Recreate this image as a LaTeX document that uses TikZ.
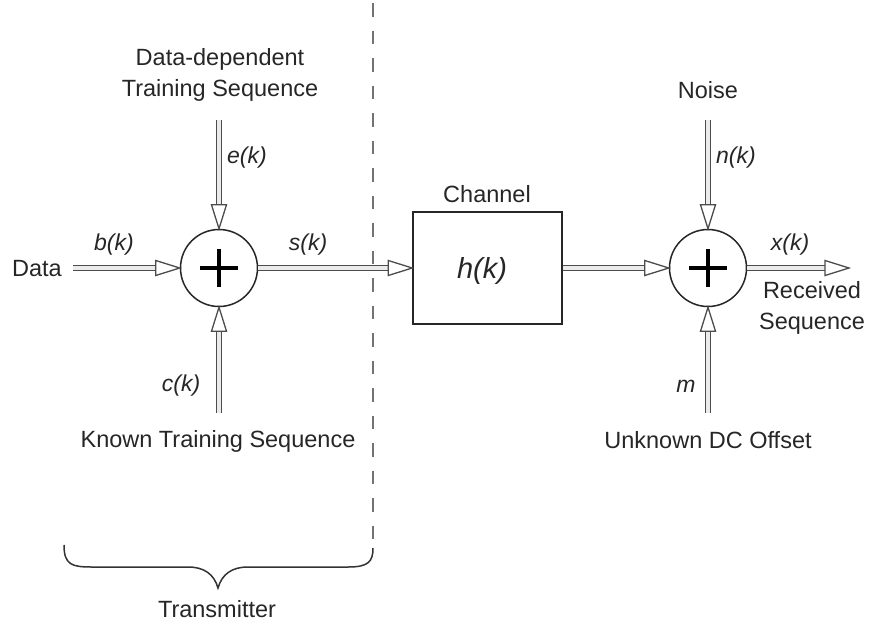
\documentclass[tikz,border=0pt]{standalone}
\usepackage{fontspec}
\setmainfont{Liberation Sans}
\usetikzlibrary{calc}

% hollow block arrow: double-line shaft and an open triangular head
\newcommand\fatarrow[2]{%
  \coordinate (fa-b) at ($(#2)!24pt!(#1)$);
  \path[shaft] (#1) -- (fa-b);
  \draw[headtip] (#2) -- ($(fa-b)!7.5pt!90:(#2)$) -- ($(fa-b)!7.5pt!-90:(#2)$) -- cycle;
}

\begin{document}
\begin{tikzpicture}[x=1pt,y=-1pt,
  lbl/.style={font=\fontsize{23.5}{31}\selectfont, inner sep=0pt, align=center, text=black!85},
  sig/.style={font=\fontsize{23}{26}\selectfont\itshape, inner sep=0pt, text=black!85, anchor=base},
  sumnode/.style={circle, draw=black!85, line width=1.5pt, minimum size=77pt, inner sep=0pt},
  plusmark/.style={line width=4pt, black},
  shaft/.style={draw=black!70, line width=1.3pt, double=black!8, double distance=3.6pt},
  headtip/.style={draw=black!70, line width=1.3pt, fill=white, line join=miter},
  divider/.style={black!55, line width=1.8pt, dash pattern=on 13.5pt off 14pt},
  bracestyle/.style={black!80, line width=1.5pt}
]
\useasboundingbox (0,0) rectangle (871,625);

% blocks
\node[sumnode] (s1) at (219,268) {};
\node[sumnode] (s2) at (708,268) {};
\node[draw=black!85, line width=1.5pt, minimum width=149pt, minimum height=112pt, inner sep=0pt] (ch) at (487.5,268) {};
\node[font=\fontsize{29}{30}\selectfont\itshape, anchor=base, inner sep=0pt, text=black!85] (hk) at (482,278) {h(k)};

% plus signs
\foreach \s in {s1,s2} {
  \draw[plusmark] ($(\s)+(-19,0)$) -- ($(\s)+(19,0)$);
  \draw[plusmark] ($(\s)+(0,-19)$) -- ($(\s)+(0,19)$);
}

% free ends of the signal lines
\coordinate (din) at (73,268);
\coordinate (eTop) at (219,120);
\coordinate (cBot) at (219,413);
\coordinate (nTop) at (708,120);
\coordinate (mBot) at (708,413);
\coordinate (xout) at (849,268);

% signal flow
\fatarrow{din}{s1.west}
\fatarrow{eTop}{s1.north}
\fatarrow{cBot}{s1.south}
\fatarrow{s1.east}{ch.west}
\fatarrow{ch.east}{s2.west}
\fatarrow{nTop}{s2.north}
\fatarrow{mBot}{s2.south}
\fatarrow{s2.east}{xout}

% transmitter boundary
\coordinate (dtop) at (373,3);
\coordinate (dbot) at (373,545);
\draw[divider] (dtop) -- (dbot);

% brace under the transmitter
\coordinate (brL) at (64,545);
\coordinate (brR) at (373,548);
\coordinate (brT) at (218,588);
\draw[bracestyle] (brL) .. controls (64,565) and (72,567) .. (92,567)
  -- (188,567) .. controls (204,567) and (214,574) .. (brT)
  .. controls (222,574) and (232,567) .. (248,567)
  -- (348,567) .. controls (368,567) and (373,562) .. (brR);

% labels
\node[lbl, anchor=base] (tData) at (37,276) {Data};
\node[lbl] (tDD) at (220,75) {Data-dependent\\Training Sequence};
\node[lbl, anchor=base] (tKnown) at (218,447) {Known Training Sequence};
\node[lbl, anchor=base] (tCh) at (487,202) {Channel};
\node[lbl, anchor=base] (tNoise) at (708,98) {Noise};
\node[lbl, anchor=base] (tDC) at (708,448) {Unknown DC Offset};
\node[lbl] (tRx) at (812,308) {Received\\Sequence};
\node[lbl, anchor=base] (tTx) at (217,617) {Transmitter};

\node[sig] (lb) at (114,250) {b(k)};
\node[sig] (ls) at (308,250) {s(k)};
\node[sig] (lx) at (790,250) {x(k)};
\node[sig] (le) at (247,163) {e(k)};
\node[sig] (ln) at (736,163) {n(k)};
\node[sig] (lc) at (181,391) {c(k)};
\node[sig] (lm) at (686,392) {m};
\end{tikzpicture}
\end{document}
